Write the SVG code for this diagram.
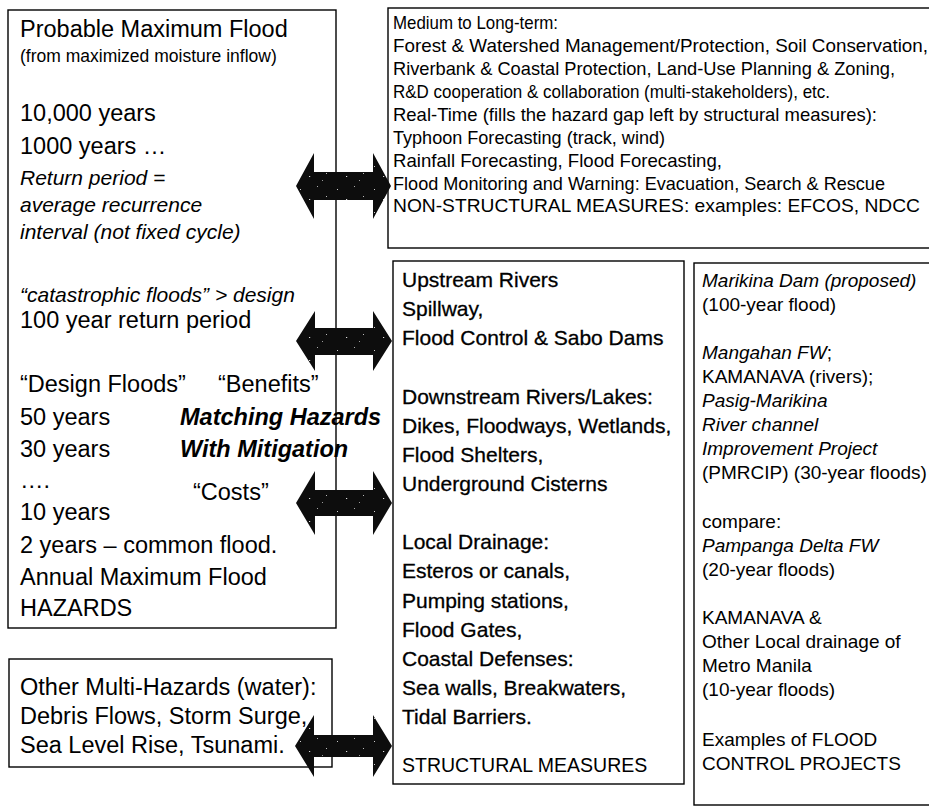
<svg xmlns="http://www.w3.org/2000/svg" width="929" height="810" viewBox="0 0 929 810">
<defs>
<pattern id="speckle" patternUnits="userSpaceOnUse" width="37" height="23">
<rect width="37" height="23" fill="#0d0d0d"/>
<rect x="4" y="5" width="1" height="1" fill="#ccc"/>
<rect x="21" y="2" width="1" height="1" fill="#aaa"/>
<rect x="13" y="15" width="1.2" height="1" fill="#ddd"/>
<rect x="30" y="12" width="1" height="1" fill="#bbb"/>
<rect x="26" y="19" width="1" height="1" fill="#999"/>
</pattern>
</defs>
<style>
.bg{fill:#fff}
.box{fill:none;stroke:#000;stroke-width:1.4}
.t{font-family:"Liberation Sans",Arial,sans-serif;fill:#000}
.lg{font-size:23.5px}
.s17{font-size:17.5px}
.it{font-style:italic}
.it21{font-size:21px;font-style:italic}
.bi{font-size:23.5px;font-weight:bold;font-style:italic}
.tr{font-size:18.5px}
.mid{font-size:21px;stroke:#000;stroke-width:0.3}
.rt{font-size:19px}
.arr{fill:url(#speckle)}
</style>
<rect class="bg" x="0" y="0" width="929" height="810"/>

<g id="hazards">
<rect class="box" x="8" y="10" width="328" height="618"/>
<text class="t lg" x="20" y="37">Probable Maximum Flood</text>
<text class="t s17" x="20" y="62">(from maximized moisture inflow)</text>
<text class="t lg" x="20" y="121">10,000 years</text>
<text class="t lg" x="20" y="154">1000 years …</text>
<text class="t it21" x="20" y="185">Return period =</text>
<text class="t it21" x="20" y="212">average recurrence</text>
<text class="t it21" x="20" y="239">interval (not fixed cycle)</text>
<text class="t it21" x="20" y="302">“catastrophic floods” &gt; design</text>
<text class="t lg" x="20" y="328">100 year return period</text>
<text class="t lg" x="20" y="392">“Design Floods”</text>
<text class="t lg" x="218" y="392">“Benefits”</text>
<text class="t lg" x="20" y="425">50 years</text>
<text class="t lg" x="20" y="457">30 years</text>
<text class="t lg" x="20" y="488">….</text>
<text class="t lg" x="193" y="500">“Costs”</text>
<text class="t lg" x="20" y="520">10 years</text>
<text class="t lg" x="20" y="553">2 years – common flood.</text>
<text class="t lg" x="20" y="585">Annual Maximum Flood</text>
<text class="t lg" x="20" y="616">HAZARDS</text>
</g>

<g id="other-hazards">
<rect class="box" x="9" y="659" width="323" height="108"/>
<text class="t lg" x="20" y="695">Other Multi-Hazards (water):</text>
<text class="t lg" x="20" y="724">Debris Flows, Storm Surge,</text>
<text class="t lg" x="20" y="753">Sea Level Rise, Tsunami.</text>
</g>

<g id="non-structural">
<rect class="box" x="388" y="8" width="550" height="240"/>
<text class="t tr" x="393" y="29" textLength="165" lengthAdjust="spacingAndGlyphs">Medium to Long-term:</text>
<text class="t tr" x="393" y="52" textLength="535" lengthAdjust="spacingAndGlyphs">Forest &amp; Watershed Management/Protection, Soil Conservation,</text>
<text class="t tr" x="393" y="75" textLength="502" lengthAdjust="spacingAndGlyphs">Riverbank &amp; Coastal Protection, Land-Use Planning &amp; Zoning,</text>
<text class="t tr" x="393" y="98" textLength="437" lengthAdjust="spacingAndGlyphs">R&amp;D cooperation &amp; collaboration (multi-stakeholders), etc.</text>
<text class="t tr" x="393" y="121" textLength="484" lengthAdjust="spacingAndGlyphs">Real-Time (fills the hazard gap left by structural measures):</text>
<text class="t tr" x="393" y="144" textLength="272" lengthAdjust="spacingAndGlyphs">Typhoon Forecasting (track, wind)</text>
<text class="t tr" x="393" y="167" textLength="329" lengthAdjust="spacingAndGlyphs">Rainfall Forecasting, Flood Forecasting,</text>
<text class="t tr" x="393" y="190" textLength="492" lengthAdjust="spacingAndGlyphs">Flood Monitoring and Warning: Evacuation, Search &amp; Rescue</text>
<text class="t tr" x="393" y="212" textLength="527" lengthAdjust="spacingAndGlyphs">NON-STRUCTURAL MEASURES: examples: EFCOS, NDCC</text>
</g>

<g id="structural">
<rect class="box" x="393" y="261" width="291" height="523"/>
<text class="t mid" x="402" y="287">Upstream Rivers</text>
<text class="t mid" x="402" y="316">Spillway,</text>
<text class="t mid" x="402" y="345">Flood Control &amp; Sabo Dams</text>
<text class="t mid" x="402" y="404">Downstream Rivers/Lakes:</text>
<text class="t mid" x="402" y="433">Dikes, Floodways, Wetlands,</text>
<text class="t mid" x="402" y="462">Flood Shelters,</text>
<text class="t mid" x="402" y="491">Underground Cisterns</text>
<text class="t mid" x="402" y="549">Local Drainage:</text>
<text class="t mid" x="402" y="578">Esteros or canals,</text>
<text class="t mid" x="402" y="608">Pumping stations,</text>
<text class="t mid" x="402" y="637">Flood Gates,</text>
<text class="t mid" x="402" y="666">Coastal Defenses:</text>
<text class="t mid" x="402" y="695">Sea walls, Breakwaters,</text>
<text class="t mid" x="402" y="724">Tidal Barriers.</text>
<text class="t" style="font-size:19.5px" x="402" y="772">STRUCTURAL MEASURES</text>
</g>

<g id="projects">
<rect class="box" x="694" y="263" width="240" height="542"/>
<text class="t rt it" x="702" y="287">Marikina Dam (proposed)</text>
<text class="t rt" x="702" y="311">(100-year flood)</text>
<text class="t rt" x="702" y="359"><tspan class="it">Mangahan FW</tspan>;</text>
<text class="t rt" x="702" y="383">KAMANAVA (rivers);</text>
<text class="t rt it" x="702" y="407">Pasig-Marikina</text>
<text class="t rt it" x="702" y="431">River channel</text>
<text class="t rt it" x="702" y="455">Improvement Project</text>
<text class="t rt" x="702" y="479">(PMRCIP) (30-year floods)</text>
<text class="t rt" x="702" y="528">compare:</text>
<text class="t rt it" x="702" y="552">Pampanga Delta FW</text>
<text class="t rt" x="702" y="576">(20-year floods)</text>
<text class="t rt" x="702" y="624">KAMANAVA &amp;</text>
<text class="t rt" x="702" y="648">Other Local drainage of</text>
<text class="t rt" x="702" y="672">Metro Manila</text>
<text class="t rt" x="702" y="696">(10-year floods)</text>
<text class="t rt" x="702" y="746">Examples of FLOOD</text>
<text class="t rt" x="702" y="770">CONTROL PROJECTS</text>
</g>

<g id="caption">
<text class="t bi" x="180" y="425">Matching Hazards</text>
<text class="t bi" x="180" y="457">With Mitigation</text>
</g>

<g id="connectors">
<polygon class="arr" points="296,186 314,153 314,172 373,172 373,153 391,186 373,219 373,200 314,200 314,219"/>
<polygon class="arr" points="296,341 315,311 315,328 373,328 373,311 392,341 373,371 373,355 315,355 315,371"/>
<polygon class="arr" points="296,503 315,471 315,490 373,490 373,471 392,503 373,535 373,516 315,516 315,535"/>
<polygon class="arr" points="295,746 314,715 314,735 373,735 373,715 392,746 373,777 373,757 314,757 314,777"/>
</g>
</svg>
